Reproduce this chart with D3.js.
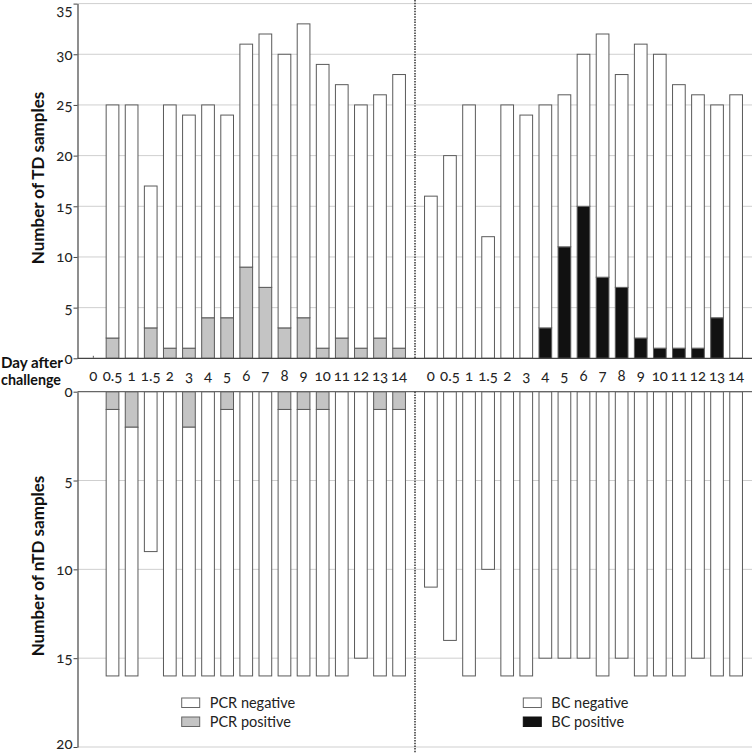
<!DOCTYPE html>
<html>
<head>
<meta charset="utf-8">
<script src="https://cdn.jsdelivr.net/npm/d3@7"></script>
<style>
  html, body { margin: 0; padding: 0; background: #fff; }
  svg { display: block; font-family: Lato, "Open Sans", sans-serif; font-feature-settings: "onum" 1; }
</style>
</head>
<body>
<svg id="chart" width="754" height="753"></svg>
<script>
// ---- Data ----
const days = ["0", "0.5", "1", "1.5", "2", "3", "4", "5", "6", "7", "8", "9", "10", "11", "12", "13", "14"];

// TD samples (upper panel): negative part stacked above positive part
const pcrTdPos = [0, 2, 0, 3, 1, 1, 4, 4, 9, 7, 3, 4, 1, 2, 1, 2, 1];
const pcrTdNeg = [0, 23, 25, 14, 24, 23, 21, 20, 22, 25, 27, 29, 28, 25, 24, 24, 27];
const bcTdPos  = [0, 0, 0, 0, 0, 0, 3, 11, 15, 8, 7, 2, 1, 1, 1, 4, 0];
const bcTdNeg  = [16, 20, 25, 12, 25, 24, 22, 15, 15, 24, 21, 29, 29, 26, 25, 21, 26];

// nTD samples (lower panel, drawn downward)
const pcrNtdPos = [0, 1, 2, 0, 0, 2, 0, 1, 0, 0, 1, 1, 1, 0, 0, 1, 1];
const pcrNtdNeg = [0, 15, 14, 9, 16, 14, 16, 15, 16, 16, 15, 15, 15, 16, 15, 15, 15];
const bcNtdPos  = [0, 0, 0, 0, 0, 0, 0, 0, 0, 0, 0, 0, 0, 0, 0, 0, 0];
const bcNtdNeg  = [11, 14, 16, 10, 16, 16, 15, 15, 15, 16, 15, 16, 16, 16, 15, 16, 16];

const topTicks = [0, 5, 10, 15, 20, 25, 30, 35];
const botTicks = [0, 5, 10, 15, 20];

const legendPcr = ["PCR negative", "PCR positive"];
const legendBc = ["BC negative", "BC positive"];

// ---- Layout ----
const svg = d3.select("#chart");
const axisX = 77.5, divX = 415, rightX = 752;
const colNeg = "#ffffff", colPcr = "#c4c4c4", colBc = "#111111";
const strokeCol = "#5a5a5a";

const xL = d3.scaleBand().domain(days).range([axisX, divX]).paddingInner(0.335).paddingOuter(0.5);
const xR = d3.scaleBand().domain(days).range([divX, rightX]).paddingInner(0.335).paddingOuter(0.5);

const yTop = d3.scaleLinear().domain([0, 35]).range([358.3, 3.6]);
const yBot = d3.scaleLinear().domain([0, 20]).range([391.7, 747]);

// gridlines
const grid = svg.append("g");
grid.selectAll("line.gt").data(topTicks.filter(d => d > 0)).join("line")
  .attr("x1", axisX).attr("x2", rightX)
  .attr("y1", d => yTop(d)).attr("y2", d => yTop(d))
  .attr("stroke", "#cfcfcf").attr("stroke-width", 1);
grid.selectAll("line.gb").data(botTicks.filter(d => d > 0)).join("line")
  .attr("x1", axisX).attr("x2", rightX)
  .attr("y1", d => yBot(d)).attr("y2", d => yBot(d))
  .attr("stroke", "#cfcfcf").attr("stroke-width", 1);

// bars
function drawTop(x, pos, neg, posColor) {
  const g = svg.append("g");
  days.forEach((d, i) => {
    const bx = x(d), bw = x.bandwidth();
    if (pos[i] > 0) {
      g.append("rect").attr("x", bx).attr("width", bw)
        .attr("y", yTop(pos[i])).attr("height", yTop(0) - yTop(pos[i]))
        .attr("fill", posColor).attr("stroke", strokeCol).attr("stroke-width", 1);
    } else {
      g.append("line").attr("x1", bx + bw / 2).attr("x2", bx + bw / 2)
        .attr("y1", yTop(0) - 2.5).attr("y2", yTop(0) - 0.5)
        .attr("stroke", "#777").attr("stroke-width", 1.2);
    }
    if (neg[i] > 0) {
      g.append("rect").attr("x", bx).attr("width", bw)
        .attr("y", yTop(pos[i] + neg[i])).attr("height", yTop(pos[i]) - yTop(pos[i] + neg[i]))
        .attr("fill", colNeg).attr("stroke", strokeCol).attr("stroke-width", 1);
    }
  });
}
function drawBot(x, pos, neg, posColor) {
  const g = svg.append("g");
  days.forEach((d, i) => {
    const bx = x(d), bw = x.bandwidth();
    if (pos[i] > 0) {
      g.append("rect").attr("x", bx).attr("width", bw)
        .attr("y", yBot(0)).attr("height", yBot(pos[i]) - yBot(0))
        .attr("fill", posColor).attr("stroke", strokeCol).attr("stroke-width", 1);
    }
    if (neg[i] > 0) {
      g.append("rect").attr("x", bx).attr("width", bw)
        .attr("y", yBot(pos[i])).attr("height", yBot(pos[i] + neg[i]) - yBot(pos[i]))
        .attr("fill", colNeg).attr("stroke", strokeCol).attr("stroke-width", 1);
    }
  });
}
drawTop(xL, pcrTdPos, pcrTdNeg, colPcr);
drawTop(xR, bcTdPos, bcTdNeg, colBc);
drawBot(xL, pcrNtdPos, pcrNtdNeg, colPcr);
drawBot(xR, bcNtdPos, bcNtdNeg, colBc);

// baselines
svg.append("line").attr("x1", axisX).attr("x2", rightX)
  .attr("y1", yTop(0)).attr("y2", yTop(0)).attr("stroke", "#444").attr("stroke-width", 1.2);
svg.append("line").attr("x1", axisX).attr("x2", rightX)
  .attr("y1", yBot(0)).attr("y2", yBot(0)).attr("stroke", "#666").attr("stroke-width", 1.2);

// y axes
const axT = svg.append("g").attr("transform", `translate(${axisX},0)`)
  .call(d3.axisLeft(yTop).tickValues(topTicks).tickSize(4).tickSizeOuter(0).tickFormat(d3.format("d")));
const axB = svg.append("g").attr("transform", `translate(${axisX},0)`)
  .call(d3.axisLeft(yBot).tickValues(botTicks).tickSize(4).tickSizeOuter(0).tickFormat(d3.format("d")));
[axT, axB].forEach(a => {
  a.select(".domain").attr("stroke", "#444").attr("stroke-width", 1.2);
  a.selectAll(".tick line").attr("stroke", "#444");
  a.selectAll(".tick text").attr("font-size", 15).attr("fill", "#222")
    .attr("font-family", "Lato, 'Open Sans', sans-serif").attr("x", -5);
});
// keep the top "35" label inside the picture
axT.selectAll(".tick text").filter(d => d === 35).attr("dy", "0.72em");
axB.selectAll(".tick text").filter(d => d === 20).attr("dy", "0.1em");

// divider (dotted)
svg.append("line").attr("x1", divX).attr("x2", divX).attr("y1", 0).attr("y2", yTop(0))
  .attr("stroke", "#333").attr("stroke-width", 1.5).attr("stroke-dasharray", "1.5,1.2");
svg.append("line").attr("x1", divX).attr("x2", divX).attr("y1", yBot(0)).attr("y2", 753)
  .attr("stroke", "#333").attr("stroke-width", 1.5).attr("stroke-dasharray", "1.5,1.2");

// x labels (day)
const lab = svg.append("g").attr("font-size", 15).attr("fill", "#222").attr("text-anchor", "middle");
[xL, xR].forEach(x => {
  lab.selectAll(null).data(days).join("text")
    .attr("x", d => x(d) + x.bandwidth() / 2).attr("y", 381)
    .text(d => d);
});

// axis titles
svg.append("text").attr("x", 1).attr("y", 368)
  .attr("font-size", 14.5).attr("font-weight", "bold").attr("fill", "#111")
  .attr("textLength", 62).attr("lengthAdjust", "spacingAndGlyphs").text("Day after");
svg.append("text").attr("x", 1).attr("y", 385)
  .attr("font-size", 14.5).attr("font-weight", "bold").attr("fill", "#111")
  .attr("textLength", 60).attr("lengthAdjust", "spacingAndGlyphs").text("challenge");

svg.append("text").attr("transform", "translate(44,178) rotate(-90)").attr("text-anchor", "middle")
  .attr("font-size", 17).attr("font-weight", "bold").attr("fill", "#111").text("Number of TD samples");
svg.append("text").attr("transform", "translate(44,566) rotate(-90)").attr("text-anchor", "middle")
  .attr("font-size", 17).attr("font-weight", "bold").attr("fill", "#111").text("Number of nTD samples");

// legends
function legend(x0, labels, posColor) {
  const g = svg.append("g");
  const fills = [colNeg, posColor];
  labels.forEach((t, i) => {
    const yy = 698 + i * 19;
    g.append("rect").attr("x", x0).attr("y", yy).attr("width", 18).attr("height", 9.5)
      .attr("fill", fills[i]).attr("stroke", i === 1 && posColor === colBc ? colBc : "#666").attr("stroke-width", 1);
    g.append("text").attr("x", x0 + 28).attr("y", yy + 9.5).attr("font-size", 14.5).attr("fill", "#222").text(t);
  });
}
legend(181.7, legendPcr, colPcr);
legend(523.3, legendBc, colBc);
</script>
</body>
</html>
